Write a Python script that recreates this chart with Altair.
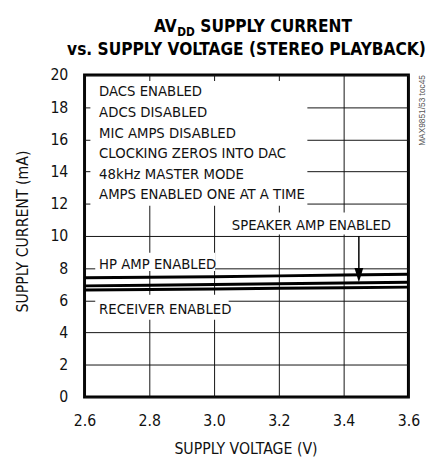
import altair as alt
import pandas as pd

FONT = "DejaVu Sans Condensed, DejaVu Sans, sans-serif"

# ---- data ----
volts = [2.6, 2.8, 3.0, 3.2, 3.4, 3.6]
hp_ma = [7.40, 7.43, 7.47, 7.52, 7.57, 7.62]
speaker_ma = [6.90, 6.94, 6.98, 7.03, 7.08, 7.12]
receiver_ma = [6.64, 6.67, 6.71, 6.75, 6.78, 6.82]
series_names = ["HP AMP", "SPEAKER AMP", "RECEIVER"]

x_ticks = [2.6, 2.8, 3.0, 3.2, 3.4, 3.6]
y_ticks = [0, 2, 4, 6, 8, 10, 12, 14, 16, 18, 20]

note_lines = ["DACS ENABLED", "ADCS DISABLED", "MIC AMPS DISABLED",
              "CLOCKING ZEROS INTO DAC", "48kHz MASTER MODE",
              "AMPS ENABLED ONE AT A TIME"]
note_v = [2.645] * 6
note_ma = [19.0, 17.72, 16.42, 15.12, 13.86, 12.6]

label_text = ["SPEAKER AMP ENABLED", "HP AMP ENABLED", "RECEIVER ENABLED"]
label_v = [3.0545, 2.645, 2.645]
label_ma = [10.67, 8.26, 5.46]

mask_v = [2.618, 3.03, 2.633, 2.633]
mask_v2 = [3.288, 3.58, 3.003, 3.045]
mask_ma = [11.87, 10.09, 7.82, 4.8]
mask_ma2 = [19.63, 11.46, 8.96, 6.34]

arrow_v = [3.447]
arrow_from = [10.0]
arrow_to = [7.57]

# ---- tables ----
rows = []
for name, vals in zip(series_names, [hp_ma, speaker_ma, receiver_ma]):
    for v, m in zip(volts, vals):
        rows.append({"v": v, "ma": m, "s": name})
lines_df = pd.DataFrame(rows)
notes_df = pd.DataFrame({"v": note_v, "ma": note_ma, "t": note_lines})
labels_df = pd.DataFrame({"v": label_v, "ma": label_ma, "t": label_text})
mask_df = pd.DataFrame({"v": mask_v, "v2": mask_v2, "ma": mask_ma, "ma2": mask_ma2})
arrow_df = pd.DataFrame({"v": arrow_v, "ma": arrow_from, "ma2": arrow_to})
head_df = pd.DataFrame({"v": arrow_v, "ma": arrow_to})
one = pd.DataFrame({"k": [0]})

W, H = 330, 328

X = alt.X("v:Q", scale=alt.Scale(domain=[2.6, 3.6], nice=False, zero=False),
          axis=alt.Axis(values=x_ticks, format=".1f", grid=True, ticks=False, tickSize=0,
                        domain=False, labelPadding=16, labelFontSize=16, labelFont=FONT,
                        labelFlush=False, labelOverlap=False,
                        labelColor="#111", title="SUPPLY VOLTAGE (V)", titleFont=FONT,
                        titleFontSize=16, titleFontWeight="normal", titleColor="#111",
                        titleX=164, titleY=53, titleBaseline="middle", titleAlign="center",
                        gridColor="#111", gridWidth=1, gridOpacity=1))
Y = alt.Y("ma:Q", scale=alt.Scale(domain=[0, 20], nice=False),
          axis=alt.Axis(values=y_ticks, format="d", grid=True, ticks=False, tickSize=0,
                        domain=False, labelPadding=17, labelFontSize=16, labelFont=FONT,
                        labelFlush=False, labelOverlap=False,
                        labelColor="#111", title="SUPPLY CURRENT (mA)", titleFont=FONT,
                        titleFontSize=16, titleFontWeight="normal", titleColor="#111",
                        titleX=-63, titleY=159, titleAngle=270, titleBaseline="middle",
                        titleAlign="center", gridColor="#111", gridWidth=1, gridOpacity=1))

masks = alt.Chart(mask_df).mark_rect(color="white").encode(
    x=X, x2="v2:Q", y=Y, y2="ma2:Q")

lines = alt.Chart(lines_df).mark_line(color="black", strokeWidth=3).encode(
    x=X, y=Y, detail="s:N")

notes = alt.Chart(notes_df).mark_text(align="left", baseline="middle", font=FONT,
                                      fontSize=15, color="#111").encode(x=X, y=Y, text="t:N")
labels = alt.Chart(labels_df).mark_text(align="left", baseline="middle", font=FONT,
                                        fontSize=15, color="#111").encode(x=X, y=Y, text="t:N")

arrow_rule = alt.Chart(arrow_df).mark_rule(color="black", strokeWidth=1.5).encode(
    x=X, y=Y, y2="ma2:Q")
arrow_head = alt.Chart(head_df).mark_point(
    shape="M-1,-1.6L1,-1.6L0,1.6Z", filled=True, color="black", size=81, opacity=1
).encode(x=X, y=Y)

t_av = alt.Chart(one).mark_text(text="AV", align="right", baseline="alphabetic", font=FONT,
                                fontSize=17.5, fontWeight="bold", color="black").encode(
    x=alt.value(94), y=alt.value(-44))
t_dd = alt.Chart(one).mark_text(text="DD", align="left", baseline="alphabetic", font=FONT,
                                fontSize=12, fontWeight="bold", color="black").encode(
    x=alt.value(94.5), y=alt.value(-40))
t_sc = alt.Chart(one).mark_text(text="SUPPLY CURRENT", align="left", baseline="alphabetic",
                                font=FONT, fontSize=17.5, fontWeight="bold",
                                color="black").encode(x=alt.value(118), y=alt.value(-44))
t_l2 = alt.Chart(one).mark_text(text="vs. SUPPLY VOLTAGE (STEREO PLAYBACK)", align="center",
                                baseline="alphabetic", font=FONT, fontSize=17.5,
                                fontWeight="bold", color="black").encode(
    x=alt.value(165), y=alt.value(-20))
t_id = alt.Chart(one).mark_text(text="MAX9851/53 toc45", align="right", baseline="middle",
                                angle=270, font="Liberation Sans, Arial, sans-serif",
                                fontSize=8.5, color="#555").encode(
    x=alt.value(344), y=alt.value(0))

chart = alt.layer(
    masks, lines, notes, labels, arrow_rule, arrow_head, t_av, t_dd, t_sc, t_l2, t_id
).properties(
    width=W, height=H,
    autosize=alt.AutoSizeParams(type="none"),
    padding={"left": 78, "top": 64, "right": 22, "bottom": 60},
    background="white",
).configure_view(stroke="black", strokeWidth=3
).configure_axis(labelOverlap=False)

chart.save("out.html", embed_options={"renderer": "svg", "actions": False})
